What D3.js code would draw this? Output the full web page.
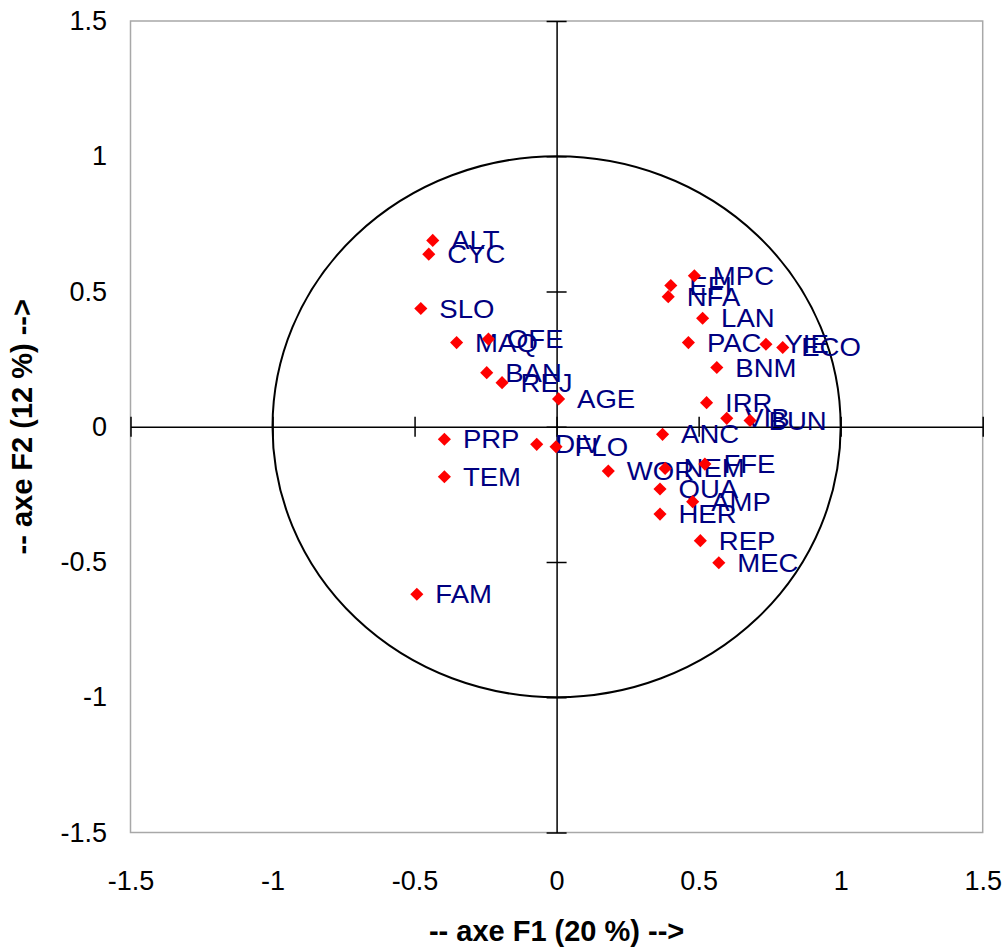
<!DOCTYPE html>
<html>
<head>
<meta charset="utf-8">
<script src="https://cdn.jsdelivr.net/npm/d3@7"></script>
<style>
  html, body { margin: 0; padding: 0; background: #fff; }
  svg { display: block; font-family: "Liberation Sans", Arial, sans-serif; }
</style>
</head>
<body>
<svg id="chart" width="1006" height="947"></svg>
<script>
// ---- data ----
const labels = ["ALT","CYC","SLO","MAQ","OFE","BAN","REJ","AGE","MPC","EFI","NFA","LAN","PAC","YIE","ECO","BNM","IRR","VIB","BUN","ANC","PRP","TEM","DIV","FLO","WOR","NEM","FFE","QUA","AMP","HER","REP","MEC","FAM"];
const f1 = [-0.436,-0.450,-0.478,-0.352,-0.240,-0.246,-0.192,0.007,0.485,0.402,0.393,0.514,0.464,0.737,0.796,0.564,0.528,0.599,0.681,0.373,-0.395,-0.395,-0.070,-0.002,0.182,0.382,0.522,0.364,0.479,0.364,0.506,0.571,-0.492];
const f2 = [0.689,0.638,0.437,0.311,0.324,0.200,0.163,0.103,0.558,0.522,0.481,0.401,0.311,0.305,0.293,0.219,0.089,0.031,0.023,-0.028,-0.046,-0.185,-0.065,-0.074,-0.164,-0.154,-0.138,-0.230,-0.277,-0.323,-0.421,-0.503,-0.619];
const tickValues = [-1.5,-1,-0.5,0,0.5,1,1.5];
const tickLabels = ["-1.5","-1","-0.5","0","0.5","1","1.5"];
const xTitle = "-- axe F1 (20 %) -->";
const yTitle = "-- axe F2 (12 %) -->";

// ---- scales ----
const svg = d3.select("#chart");
const x = d3.scaleLinear().domain([-1.5, 1.5]).range([130.5, 982.7]);
const y = d3.scaleLinear().domain([-1.5, 1.5]).range([832.5, 21]);

// plot border
svg.append("rect")
  .attr("x", x(-1.5)).attr("y", y(1.5))
  .attr("width", x(1.5) - x(-1.5)).attr("height", y(-1.5) - y(1.5))
  .attr("fill", "none").attr("stroke", "#a8a8a8").attr("stroke-width", 1.5);

// correlation circle
svg.append("ellipse")
  .attr("cx", x(0)).attr("cy", y(0))
  .attr("rx", x(1) - x(0)).attr("ry", y(0) - y(1))
  .attr("fill", "none").attr("stroke", "#000").attr("stroke-width", 2);

// axis lines through origin with cross ticks
const xAxisG = svg.append("g")
  .attr("transform", `translate(0,${y(0)})`)
  .call(d3.axisBottom(x).tickValues(tickValues).tickFormat("").tickSizeOuter(0).tickSizeInner(10));
xAxisG.selectAll(".tick line").attr("y1", -10).attr("y2", 10);
const yAxisG = svg.append("g")
  .attr("transform", `translate(${x(0)},0)`)
  .call(d3.axisLeft(y).tickValues(tickValues).tickFormat("").tickSizeOuter(0).tickSizeInner(10));
yAxisG.selectAll(".tick line").attr("x1", -10).attr("x2", 10);
svg.selectAll(".domain, .tick line").attr("stroke", "#000").attr("stroke-width", 1.5);

// tick labels on the frame edges
const xLab = svg.append("g")
  .attr("transform", `translate(0,${y(-1.5)})`)
  .call(d3.axisBottom(x).tickValues(tickValues).tickFormat((d,i) => tickLabels[i]).tickSize(0).tickPadding(38));
const yLab = svg.append("g")
  .attr("transform", `translate(${x(-1.5)},0)`)
  .call(d3.axisLeft(y).tickValues(tickValues).tickFormat((d,i) => tickLabels[i]).tickSize(0).tickPadding(23.5));
[xLab, yLab].forEach(g => {
  g.select(".domain").remove();
  g.selectAll("text").attr("font-size", 27).attr("fill", "#000")
    .attr("font-family", "'Liberation Sans', Arial, sans-serif");
});

// axis titles
svg.append("text")
  .attr("x", x(0)).attr("y", 941)
  .attr("text-anchor", "middle").attr("font-weight", "bold").attr("font-size", 29)
  .text(xTitle);
svg.append("text")
  .attr("transform", `translate(31.5,${y(0)}) rotate(-90)`)
  .attr("text-anchor", "middle").attr("font-weight", "bold").attr("font-size", 29)
  .text(yTitle);

// data
const pts = labels.map((l, i) => ({ label: l, f1: f1[i], f2: f2[i] }));

svg.append("g").selectAll("text").data(pts).join("text")
  .attr("transform", d => `translate(${x(d.f1) + 18.5},${y(d.f2) + 9}) scale(1.08,1)`)
  .attr("font-size", 25.5).attr("fill", "#000080")
  .text(d => d.label);

const diamond = d3.symbol().type(d3.symbolSquare).size(86);
svg.append("g").selectAll("path").data(pts).join("path")
  .attr("d", diamond)
  .attr("transform", d => `translate(${x(d.f1)},${y(d.f2)}) rotate(45)`)
  .attr("fill", "#ff0000");
</script>
</body>
</html>
